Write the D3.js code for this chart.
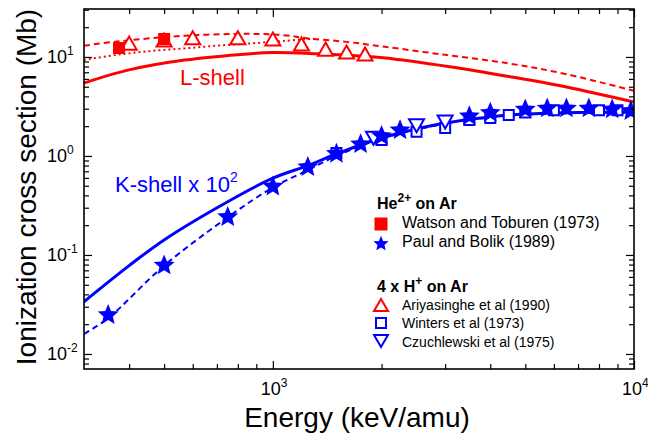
<!DOCTYPE html>
<html>
<head>
<meta charset="utf-8">
<script src="https://cdn.jsdelivr.net/npm/d3@7"></script>
<style>
  body { margin: 0; background: #fff; }
  svg { font-family: "Liberation Sans", Arial, sans-serif; }
</style>
</head>
<body>
<svg width="648" height="439"></svg>
<script>
// Experimental points
const watsonE = [375, 500];
const watsonS = [12.3, 15.2];

const paulE = [350, 500, 750, 1000, 1250, 1500, 1750, 2000, 2250, 3500, 4000, 5000, 5750, 6500, 7500, 8700, 9800];
const paulS = [0.0254, 0.0805, 0.248, 0.504, 0.792, 1.08, 1.35, 1.63, 1.87, 2.59, 2.80, 3.03, 3.10, 3.10, 3.10, 3.03, 2.92];

const ariyaE = [400, 500, 600, 800, 1000, 1200, 1400, 1600, 1800];
const ariyaS = [13.8, 14.8, 15.6, 15.6, 15.2, 13.5, 12.0, 11.2, 10.7];

const wintersE = [1500, 2000, 2500, 3000, 3500, 4000, 4500, 5000, 6000, 8000, 9000];
const wintersS = [1.07, 1.45, 1.76, 1.92, 2.31, 2.42, 2.59, 2.74, 2.9, 2.9, 2.9];

const czuchE = [1900, 2500, 3000];
const czuchS = [1.51, 2.02, 2.2];

// Theory curves
const lSolidE = [300, 400, 570, 870, 1000, 1320, 1630, 2020, 3090, 4500, 6500, 10000];
const lSolidS = [5.46, 7.4, 9.3, 10.8, 11.1, 10.8, 10.4, 9.84, 7.98, 6.36, 4.98, 3.51];

const lDashE = [300, 370, 570, 870, 1070, 1250, 1600, 2000, 3000, 4500, 6500, 10000];
const lDashS = [13.0, 14.3, 16.4, 17.1, 16.6, 15.4, 14.2, 12.8, 10.5, 8.6, 6.7, 4.54];

const lDotE = [300, 370, 460, 570, 700, 870, 1070, 1300];
const lDotS = [9.33, 10.5, 11.5, 12.2, 13.0, 13.7, 14.5, 15.3];

const kSolidE = [300, 400, 500, 750, 1000, 1250, 1500, 2000, 3000, 4000, 5000, 7000, 10000];
const kSolidS = [0.0337, 0.078, 0.142, 0.345, 0.596, 0.80, 1.05, 1.52, 2.15, 2.48, 2.65, 2.75, 2.78];

const kDashE = [300, 350, 500, 750, 1000, 1250, 1500, 2000, 3000, 4000, 5000, 7000, 10000];
const kDashS = [0.0159, 0.023, 0.078, 0.24, 0.48, 0.72, 1.0, 1.50, 2.12, 2.45, 2.62, 2.72, 2.75];

// Tick labels (powers of ten)
const xTickExps = [3, 4];
const yTickExps = [-2, -1, 0, 1];

const red = "#ff0000";
const blue = "#0000ff";

const svg = d3.select("svg");

const x = d3.scaleLog().domain([300, 10000]).range([84, 634]);
const y = d3.scaleLog().domain([0.00705, 30.5]).range([369, 9]);

const isPow = (v) => Math.abs(Math.log10(v) - Math.round(Math.log10(v))) < 1e-9;
const xMajor = x.ticks().filter(isPow);
const xMinor = x.ticks().filter((v) => !isPow(v) && v > 300);
const yMajor = y.ticks().filter(isPow);
const yMinor = y.ticks().filter((v) => !isPow(v));

// custom marker shapes, centred on their bounding box
const triUp = {
  draw(ctx, s) {
    const h = s * 0.87;
    ctx.moveTo(0, -h / 2); ctx.lineTo(s / 2, h / 2); ctx.lineTo(-s / 2, h / 2); ctx.closePath();
  }
};
const triDown = {
  draw(ctx, s) {
    const h = s * 0.87;
    ctx.moveTo(0, h / 2); ctx.lineTo(s / 2, -h / 2); ctx.lineTo(-s / 2, -h / 2); ctx.closePath();
  }
};
const square = {
  draw(ctx, s) { ctx.rect(-s / 2, -s / 2, s, s); }
};
const star = {
  draw(ctx, s) {
    const R = s / 2, r = R * 0.45;
    for (let i = 0; i < 10; i++) {
      const a = -Math.PI / 2 + i * Math.PI / 5;
      const rr = i % 2 ? r : R;
      const px = rr * Math.cos(a), py = rr * Math.sin(a) + R * 0.1;
      i ? ctx.lineTo(px, py) : ctx.moveTo(px, py);
    }
    ctx.closePath();
  }
};

svg.append("clipPath").attr("id", "plot")
  .append("rect").attr("x", 84).attr("y", 9).attr("width", 550).attr("height", 360);

const g = svg.append("g").attr("clip-path", "url(#plot)");

const line = d3.line().x((d) => x(d[0])).y((d) => y(d[1])).curve(d3.curveCatmullRom);
const zip = (a, b) => a.map((v, i) => [v, b[i]]);

const curves = [
  { E: lDotE, S: lDotS, color: red, w: 2, dash: "2,3" },
  { E: lDashE, S: lDashS, color: red, w: 2, dash: "6,4" },
  { E: lSolidE, S: lSolidS, color: red, w: 3, dash: null },
  { E: kDashE, S: kDashS, color: blue, w: 2, dash: "6,4" },
  { E: kSolidE, S: kSolidS, color: blue, w: 3, dash: null }
];

g.selectAll("path.curve")
  .data(curves)
  .enter()
  .append("path")
  .attr("class", "curve")
  .attr("fill", "none")
  .attr("stroke", (d) => d.color)
  .attr("stroke-width", (d) => d.w)
  .attr("stroke-dasharray", (d) => d.dash)
  .attr("d", (d) => line(zip(d.E, d.S)));

function markers(E, S, type, size, fill, stroke) {
  g.append("g")
    .selectAll("path")
    .data(zip(E, S))
    .enter()
    .append("path")
    .attr("transform", (d) => `translate(${x(d[0])},${y(d[1])})`)
    .attr("d", d3.symbol().type(type).size(size))
    .attr("fill", fill)
    .attr("stroke", stroke)
    .attr("stroke-width", 2);
}

markers(ariyaE, ariyaS, triUp, 15, "#fff", red);
markers(watsonE, watsonS, square, 10, red, red);
markers(wintersE, wintersS, square, 10, "#fff", blue);
markers(czuchE, czuchS, triDown, 15, "#fff", blue);
markers(paulE, paulS, star, 22, blue, "none");

// Axes: inward ticks on all four sides
function axis(gen, scale, values, size, tr) {
  svg.append("g")
    .attr("transform", tr)
    .call(gen(scale).tickValues(values).tickSize(size).tickFormat(""))
    .call((a) => a.select(".domain").remove())
    .call((a) => a.selectAll("line").attr("stroke", "#000").attr("stroke-width", 1.2));
}
axis(d3.axisBottom, x, xMajor, -8, "translate(0,369)");
axis(d3.axisBottom, x, xMinor, -5, "translate(0,369)");
axis(d3.axisTop, x, xMajor, -8, "translate(0,9)");
axis(d3.axisTop, x, xMinor, -5, "translate(0,9)");
axis(d3.axisLeft, y, yMajor, -8, "translate(84,0)");
axis(d3.axisLeft, y, yMinor, -5, "translate(84,0)");
axis(d3.axisRight, y, yMajor, -8, "translate(634,0)");
axis(d3.axisRight, y, yMinor, -5, "translate(634,0)");

svg.append("rect")
  .attr("x", 84).attr("y", 9).attr("width", 550).attr("height", 360)
  .attr("fill", "none").attr("stroke", "#000").attr("stroke-width", 1.6);

// Tick labels
const xl = svg.append("g").selectAll("text").data(xTickExps).enter().append("text")
  .attr("x", (d) => x(Math.pow(10, d)) - 12)
  .attr("y", 395)
  .attr("font-size", 18);
xl.append("tspan").text("10");
xl.append("tspan").attr("dy", -8).attr("font-size", 12).text((d) => d);

const yl = svg.append("g").selectAll("text").data(yTickExps).enter().append("text")
  .attr("x", 47)
  .attr("y", (d) => y(Math.pow(10, d)) + 6)
  .attr("font-size", 18);
yl.append("tspan").text("10");
yl.append("tspan").attr("dy", -8).attr("font-size", 12).text((d) => d);

// Axis titles
svg.append("text")
  .attr("x", 357).attr("y", 427)
  .attr("text-anchor", "middle")
  .attr("font-size", 28)
  .text("Energy (keV/amu)");

svg.append("text")
  .attr("transform", "translate(36,187) rotate(-90)")
  .attr("text-anchor", "middle")
  .attr("font-size", 28)
  .text("Ionization cross section (Mb)");

// Curve labels
svg.append("text")
  .attr("x", 180).attr("y", 85)
  .attr("font-size", 22)
  .attr("fill", red)
  .text("L-shell");

const kl = svg.append("text")
  .attr("x", 115).attr("y", 192)
  .attr("font-size", 22)
  .attr("fill", blue);
kl.append("tspan").text("K-shell x 10");
kl.append("tspan").attr("dy", -10).attr("font-size", 14).text("2");

// Legend
const hdr1 = svg.append("text").attr("x", 377).attr("y", 209)
  .attr("font-size", 16).attr("font-weight", "bold");
hdr1.append("tspan").text("He");
hdr1.append("tspan").attr("dy", -7).attr("font-size", 12).text("2+");
hdr1.append("tspan").attr("dy", 7).text(" on Ar");

const hdr2 = svg.append("text").attr("x", 377).attr("y", 292)
  .attr("font-size", 16).attr("font-weight", "bold");
hdr2.append("tspan").text("4 x H");
hdr2.append("tspan").attr("dy", -7).attr("font-size", 12).text("+");
hdr2.append("tspan").attr("dy", 7).text(" on Ar");

const legendItems = [
  { label: "Watson and Toburen (1973)", type: square, size: 11, fill: red, stroke: red, y: 228, fs: 16, my: 224 },
  { label: "Paul and Bolik (1989)", type: star, size: 16, fill: blue, stroke: "none", y: 247, fs: 16, my: 243 },
  { label: "Ariyasinghe et al (1990)", type: triUp, size: 14, fill: "#fff", stroke: red, y: 310, fs: 14, my: 305 },
  { label: "Winters et al (1973)", type: square, size: 10, fill: "#fff", stroke: blue, y: 328, fs: 14, my: 323 },
  { label: "Czuchlewski et al (1975)", type: triDown, size: 14, fill: "#fff", stroke: blue, y: 347, fs: 14, my: 341 }
];

const leg = svg.append("g").selectAll("g").data(legendItems).enter().append("g");
leg.append("path")
  .attr("transform", (d) => `translate(381,${d.my})`)
  .attr("d", (d) => d3.symbol().type(d.type).size(d.size)())
  .attr("fill", (d) => d.fill)
  .attr("stroke", (d) => d.stroke)
  .attr("stroke-width", 2);
leg.append("text")
  .attr("x", 402)
  .attr("y", (d) => d.y)
  .attr("font-size", (d) => d.fs)
  .text((d) => d.label);
</script>
</body>
</html>
